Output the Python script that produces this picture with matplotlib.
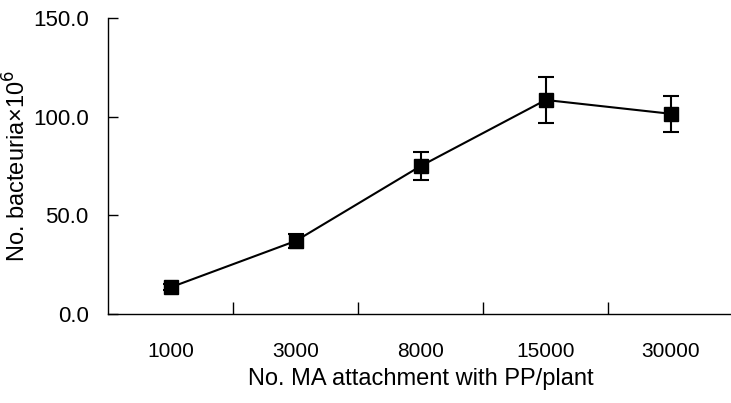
import matplotlib
import matplotlib.pyplot as plt
import numpy as np

matplotlib.use("Agg")

categories = ["1000", "3000", "8000", "15000", "30000"]
bacteria = [13.5, 37.0, 75.0, 108.5, 101.5]
errors = [1.5, 3.5, 7.0, 11.5, 9.0]

plt.rcParams["font.family"] = ["Liberation Sans", "DejaVu Sans"]

fig = plt.figure(figsize=(7.31, 4.03), dpi=100)
ax = fig.add_axes([0.148, 0.221, 0.855, 0.734])

x = np.arange(len(categories))
ax.errorbar(
    x, bacteria, yerr=errors, color="black", marker="s", markersize=10,
    linewidth=1.5, elinewidth=1.5, capsize=6, capthick=1.5,
)

ax.set_xlim(-0.5, len(categories) - 0.5)
ax.set_ylim(0, 150)
ax.set_yticks([0, 50, 100, 150])
ax.set_yticklabels([f"{v:.1f}" for v in [0, 50, 100, 150]], fontsize=16)
ax.set_xticks(x)
ax.set_xticklabels(categories, fontsize=15)
ax.tick_params(axis="x", length=0, pad=20)
ax.set_xticks(np.arange(len(categories) - 1) + 0.5, minor=True)
ax.tick_params(axis="x", which="minor", direction="in", length=9, width=1)
ax.tick_params(axis="y", direction="in", length=7, width=1, pad=14)

for side in ["top", "right"]:
    ax.spines[side].set_visible(False)
for side in ["left", "bottom"]:
    ax.spines[side].set_linewidth(1)

ax.set_xlabel("No. MA attachment with PP/plant", fontsize=17, labelpad=5)
ax.set_ylabel("No. bacteuria×10$^6$", fontsize=17, labelpad=2)

fig.savefig("out.png", dpi=100)
